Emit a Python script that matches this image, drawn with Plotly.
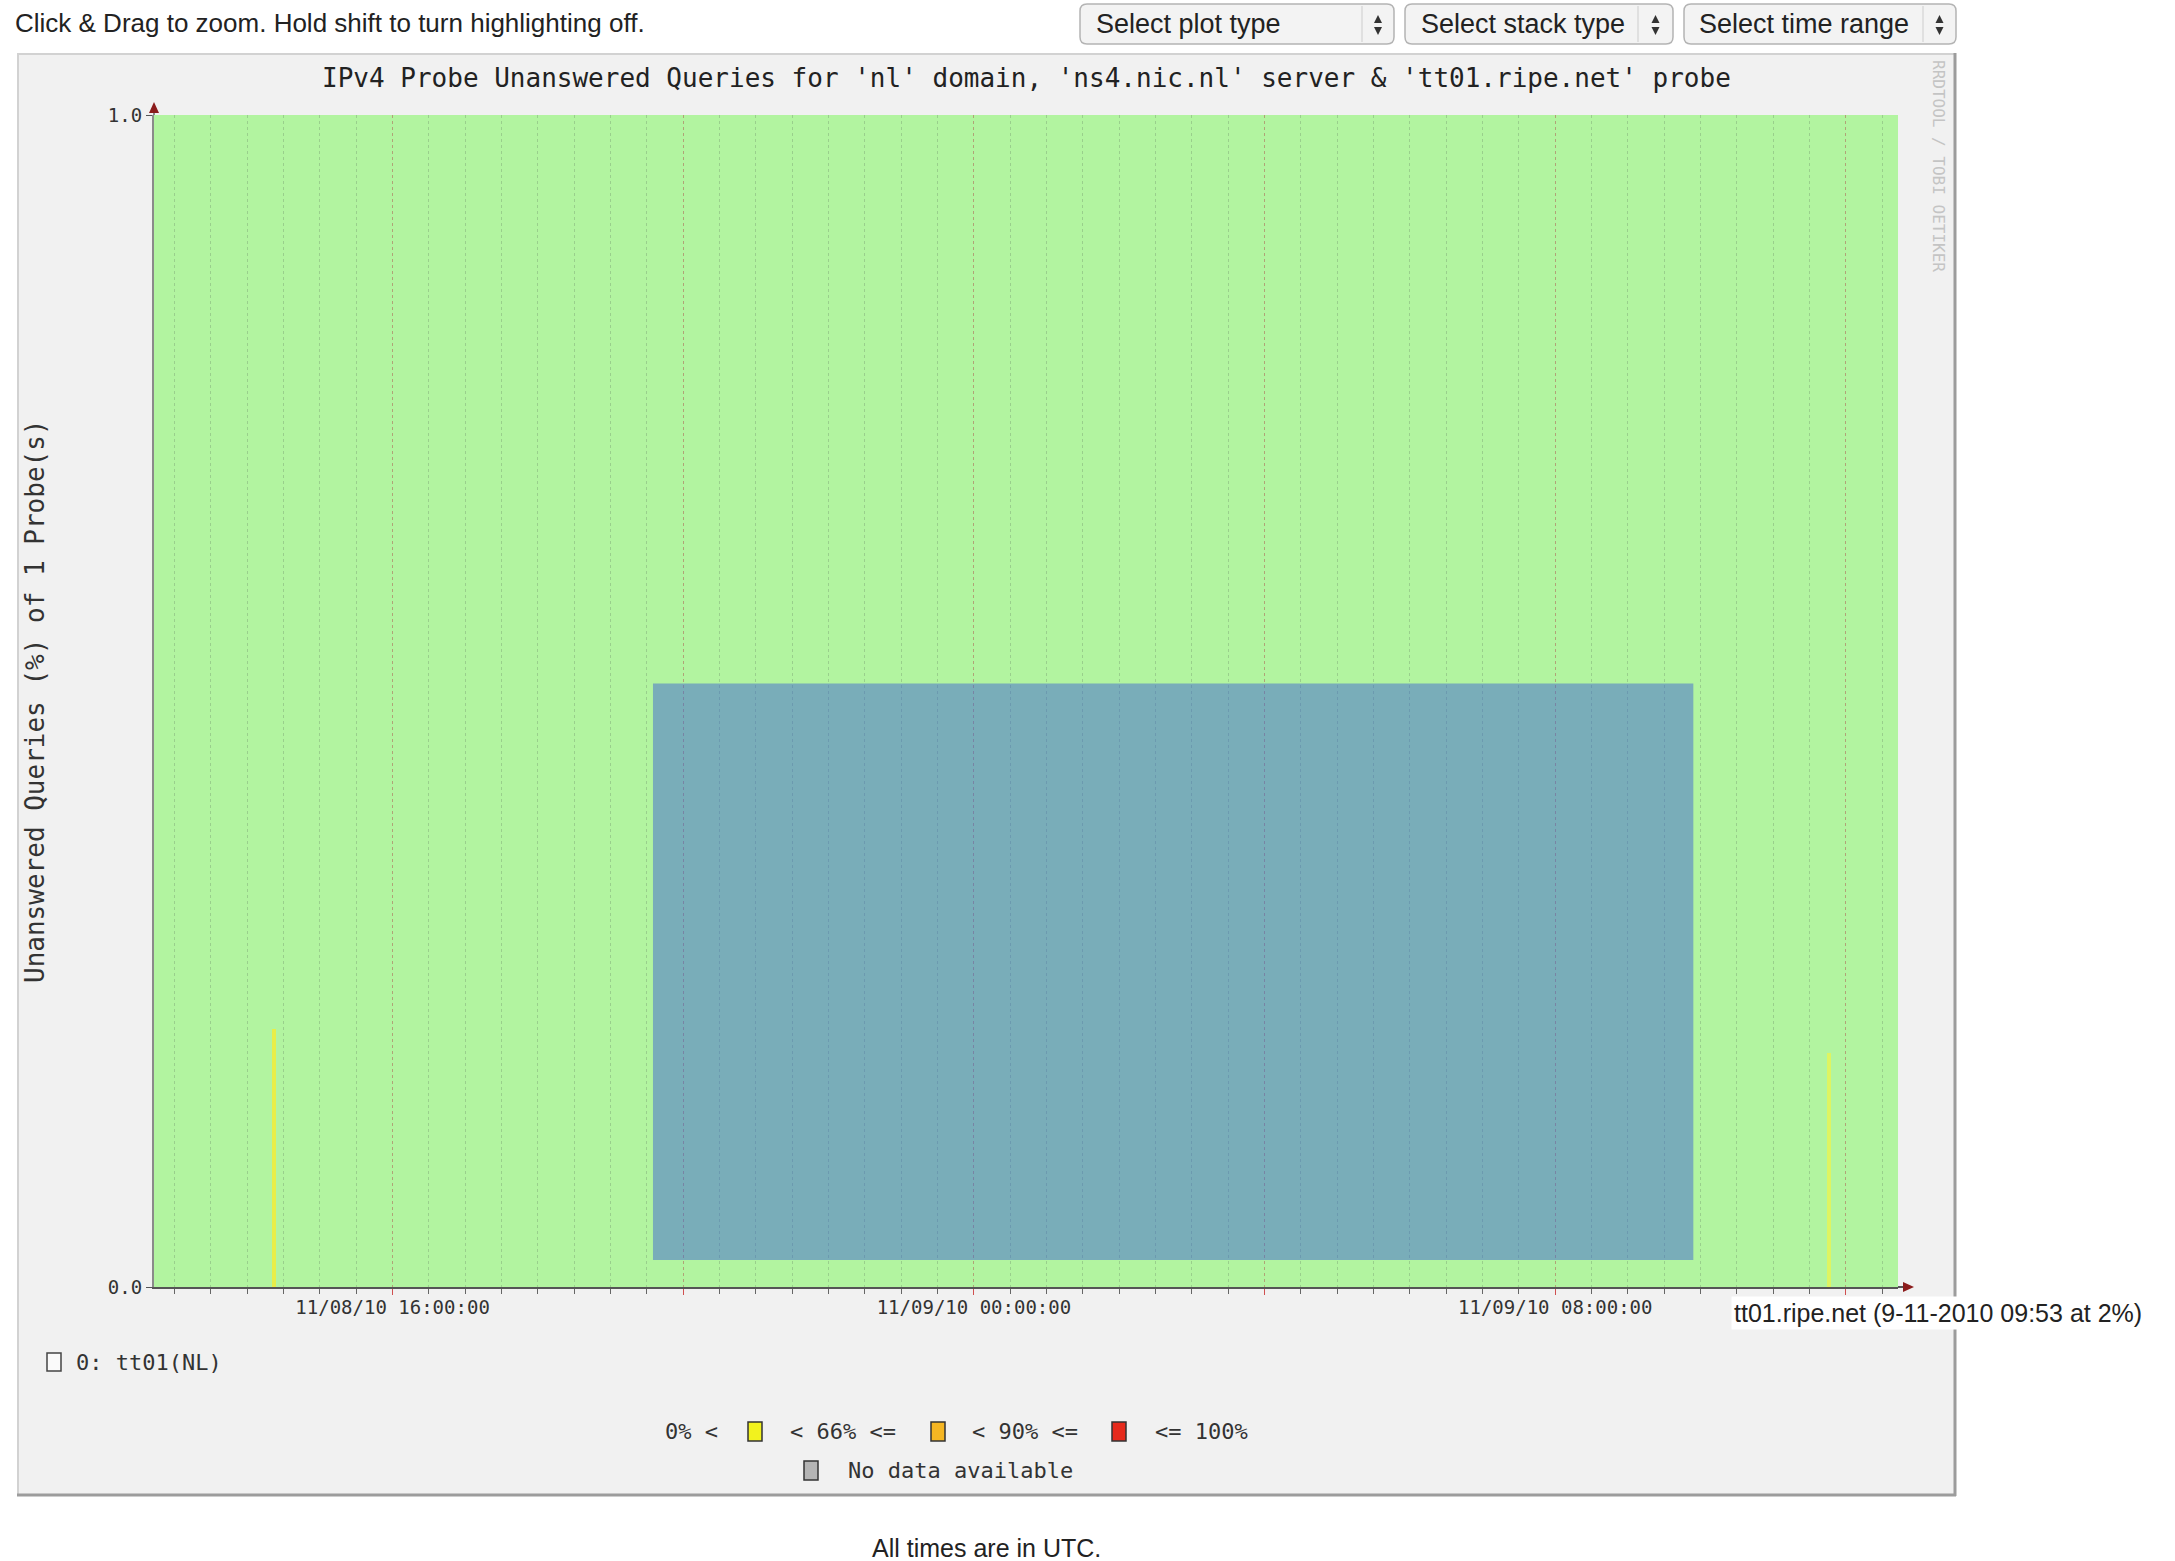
import plotly.graph_objects as go

# ---------------- data ----------------
x_range = ["2010-11-08 12:43", "2010-11-09 12:43"]

tick_times = ["2010-11-08 16:00", "2010-11-08 20:00", "2010-11-09 00:00",
              "2010-11-09 04:00", "2010-11-09 08:00", "2010-11-09 12:00"]
tick_labels = ["11/08/10 16:00:00", "", "11/09/10 00:00:00", "", "11/09/10 08:00:00", ""]

y_tick_values = [0.0, 1.0]
y_tick_labels = ["0.0", "1.0"]

# short yellow spikes (0% < x < 66% class)
spike_times = ["2010-11-08 14:22", "2010-11-09 11:46"]
spike_values = [0.22, 0.20]
spike_colors = ["#e8ee48", "#def462"]

# drag-to-zoom selection box
sel_times = ["2010-11-08 19:35", "2010-11-09 09:54"]
sel_values = [0.023, 0.515]

legend_labels = ["0% <", "< 66% <=", "< 90% <=", "<= 100%"]
legend_colors = ["#f2f21e", "#f5b623", "#e62a1c"]
nodata_label = "No data available"
nodata_color = "#b4b4b4"
series_label = "0: tt01(NL)"

title_text = "IPv4 Probe Unanswered Queries for 'nl' domain, 'ns4.nic.nl' server & 'tt01.ripe.net' probe"
ylabel_text = "Unanswered Queries (%) of 1 Probe(s)"
dropdowns = ["Select plot type", "Select stack type", "Select time range"]

# ---------------- geometry helpers ----------------
W, H = 2175, 1561
L, R, T, B = 154, 1898, 115, 1287


def px(x):
    return (x - L) / (R - L)


def py(y):
    return (B - y) / (B - T)


MONO = "DejaVu Sans Mono"
SANS = "Liberation Sans"

fig = go.Figure()

# selection overlay
fig.add_trace(go.Scatter(
    x=[sel_times[0], sel_times[1], sel_times[1], sel_times[0], sel_times[0]],
    y=[sel_values[0], sel_values[0], sel_values[1], sel_values[1], sel_values[0]],
    fill="toself", fillcolor="rgba(64,102,210,0.5)", mode="lines",
    line=dict(width=0, color="rgba(0,0,0,0)"), hoverinfo="skip", showlegend=False))

# spikes
fig.add_trace(go.Bar(
    x=spike_times, y=spike_values, width=[200000] * len(spike_times),
    marker=dict(color=spike_colors, line=dict(width=0)),
    hoverinfo="skip", showlegend=False))

shapes = []
annotations = []

# panel background + plot canvas
shapes.append(dict(type="rect", xref="paper", yref="paper", layer="below",
                   x0=px(17), x1=px(1956), y0=py(1495), y1=py(53),
                   fillcolor="#f1f1f1", line=dict(width=0)))
shapes.append(dict(type="rect", xref="paper", yref="paper", layer="below",
                   x0=0, x1=1, y0=0, y1=1, fillcolor="#b2f4a0", line=dict(width=0)))
# panel borders
for (x0, y0, x1, y1, c, w) in [
    (17, 54, 1956, 54, "#d2d2d2", 2),
    (18, 53, 18, 1495, "#d2d2d2", 2),
    (1955, 53, 1955, 1496, "#9c9c9c", 3),
    (17, 1495, 1956, 1495, "#9c9c9c", 3),
]:
    shapes.append(dict(type="line", xref="paper", yref="paper",
                       x0=px(x0), x1=px(x1), y0=py(y0), y1=py(y1),
                       line=dict(color=c, width=w)))

# axis extension and arrows
shapes.append(dict(type="line", xref="paper", yref="paper",
                   x0=1, x1=px(1905), y0=0, y1=0, line=dict(color="#555555", width=2)))
shapes.append(dict(type="line", xref="paper", yref="paper",
                   x0=0, x1=0, y0=1, y1=py(108), line=dict(color="#8a8a8a", width=2)))
shapes.append(dict(type="path", xref="paper", yref="paper",
                   path=f"M {px(1914)},{py(1287)} L {px(1903)},{py(1282)} L {px(1903)},{py(1292)} Z",
                   fillcolor="#8b1c1c", line=dict(width=0)))
shapes.append(dict(type="path", xref="paper", yref="paper",
                   path=f"M {px(154)},{py(102)} L {px(149)},{py(113)} L {px(159)},{py(113)} Z",
                   fillcolor="#8b1c1c", line=dict(width=0)))


def rounded_rect(x0, y0, x1, y1, r):
    return (f"M {px(x0 + r)},{py(y0)} L {px(x1 - r)},{py(y0)} "
            f"Q {px(x1)},{py(y0)} {px(x1)},{py(y0 + r)} L {px(x1)},{py(y1 - r)} "
            f"Q {px(x1)},{py(y1)} {px(x1 - r)},{py(y1)} L {px(x0 + r)},{py(y1)} "
            f"Q {px(x0)},{py(y1)} {px(x0)},{py(y1 - r)} L {px(x0)},{py(y0 + r)} "
            f"Q {px(x0)},{py(y0)} {px(x0 + r)},{py(y0)} Z")


# dropdown boxes
boxes = [(1080, 1394, 1362, 1094), (1405, 1673, 1638, 1419), (1684, 1956, 1923, 1697)]
for label, (bx0, bx1, div, tx) in zip(dropdowns, boxes):
    shapes.append(dict(type="path", xref="paper", yref="paper",
                       path=rounded_rect(bx0, 4, bx1, 44, 7),
                       fillcolor="#f3f3f3", line=dict(color="#b4b4b4", width=1.5)))
    shapes.append(dict(type="line", xref="paper", yref="paper",
                       x0=px(div), x1=px(div), y0=py(6), y1=py(42),
                       line=dict(color="#cdcdcd", width=1)))
    cx = (div + bx1) / 2
    shapes.append(dict(type="path", xref="paper", yref="paper",
                       path=f"M {px(cx)},{py(15)} L {px(cx - 4)},{py(23)} L {px(cx + 4)},{py(23)} Z",
                       fillcolor="#333333", line=dict(width=0)))
    shapes.append(dict(type="path", xref="paper", yref="paper",
                       path=f"M {px(cx)},{py(35)} L {px(cx - 4)},{py(27)} L {px(cx + 4)},{py(27)} Z",
                       fillcolor="#333333", line=dict(width=0)))
    annotations.append(dict(xref="paper", yref="paper", x=px(tx), y=py(24),
                            xanchor="left", yanchor="middle", showarrow=False, text=label,
                            font=dict(family=SANS, size=27, color="#222222")))

# series checkbox
shapes.append(dict(type="rect", xref="paper", yref="paper",
                   x0=px(47), x1=px(61), y0=py(1371), y1=py(1353),
                   fillcolor="#fafafa", line=dict(color="#444444", width=1.5)))
annotations.append(dict(xref="paper", yref="paper", x=px(74), y=py(1362),
                        xanchor="left", yanchor="middle", showarrow=False, text=series_label,
                        font=dict(family=MONO, size=22, color="#333333")))

# colour legend
text_x = [663, 788, 970, 1153]
box_cx = [755, 938, 1119]
for lab, tx in zip(legend_labels, text_x):
    annotations.append(dict(xref="paper", yref="paper", x=px(tx), y=py(1431),
                            xanchor="left", yanchor="middle", showarrow=False, text=lab,
                            font=dict(family=MONO, size=22, color="#333333")))
for col, cx in zip(legend_colors, box_cx):
    shapes.append(dict(type="rect", xref="paper", yref="paper",
                       x0=px(cx - 7), x1=px(cx + 7), y0=py(1441), y1=py(1422),
                       fillcolor=col, line=dict(color="#333333", width=1.5)))
shapes.append(dict(type="rect", xref="paper", yref="paper",
                   x0=px(804), x1=px(818), y0=py(1480), y1=py(1461),
                   fillcolor=nodata_color, line=dict(color="#333333", width=1.5)))
annotations.append(dict(xref="paper", yref="paper", x=px(846), y=py(1470),
                        xanchor="left", yanchor="middle", showarrow=False, text=nodata_label,
                        font=dict(family=MONO, size=22, color="#333333")))

# texts
annotations += [
    dict(xref="paper", yref="paper", x=px(13), y=py(23), xanchor="left", yanchor="middle",
         showarrow=False, text="Click &amp; Drag to zoom. Hold shift to turn highlighting off.",
         font=dict(family=SANS, size=26, color="#222222")),
    dict(xref="paper", yref="paper", x=px(1026), y=py(78), xanchor="center", yanchor="middle",
         showarrow=False, text=title_text, font=dict(family=MONO, size=26, color="#222222")),
    dict(xref="paper", yref="paper", x=px(35), y=py(701), xanchor="center", yanchor="middle",
         showarrow=False, text=ylabel_text, textangle=-90,
         font=dict(family=MONO, size=26, color="#333333")),
    dict(xref="paper", yref="paper", x=px(1939), y=py(166), xanchor="center", yanchor="middle",
         showarrow=False, text="RRDTOOL / TOBI OETIKER", textangle=90,
         font=dict(family=MONO, size=16, color="#c4c4c4")),
    dict(xref="paper", yref="paper", x=px(986), y=py(1548), xanchor="center", yanchor="middle",
         showarrow=False, text="All times are in UTC.",
         font=dict(family=SANS, size=25, color="#222222")),
    dict(xref="paper", yref="paper", x=px(1731), y=py(1313), xanchor="left", yanchor="middle",
         showarrow=False, text="tt01.ripe.net (9-11-2010 09:53 at 2%)", bgcolor="#ffffff",
         borderpad=2, font=dict(family=SANS, size=25, color="#222222")),
]

fig.update_layout(
    width=W, height=H, autosize=False,
    margin=dict(l=L, r=W - R, t=T, b=H - B, pad=0),
    paper_bgcolor="#ffffff", plot_bgcolor="rgba(0,0,0,0)",
    showlegend=False, bargap=0,
    shapes=shapes, annotations=annotations,
    xaxis=dict(
        type="date", range=x_range, tickmode="array", tickvals=tick_times, ticktext=tick_labels,
        ticks="outside", ticklen=6, tickwidth=1, tickcolor="#d05050",
        ticklabelstandoff=-4,
        showgrid=True, gridcolor="rgba(222,80,80,0.35)", griddash="dot", gridwidth=1,
        minor=dict(dtick=1800000, tick0="2010-11-08 00:00", ticks="outside", ticklen=5,
                   tickcolor="#666666", showgrid=True, gridcolor="rgba(90,110,90,0.28)",
                   griddash="dot", gridwidth=1),
        showline=True, linecolor="#555555", linewidth=2, zeroline=False,
        tickfont=dict(family=MONO, size=19, color="#333333"), fixedrange=True,
    ),
    yaxis=dict(
        range=[0, 1], tickmode="array", tickvals=y_tick_values, ticktext=y_tick_labels,
        ticks="outside", ticklen=6, tickcolor="#555555",
        showgrid=True, gridcolor="rgba(222,80,80,0.5)", griddash="dot",
        showline=True, linecolor="#8a8a8a", linewidth=2, zeroline=False,
        tickfont=dict(family=MONO, size=19, color="#333333"), fixedrange=True,
    ),
)

fig.write_html("out.html", config={"displayModeBar": False},
               post_script="document.body.style.margin='0';document.body.style.overflow='hidden';")
